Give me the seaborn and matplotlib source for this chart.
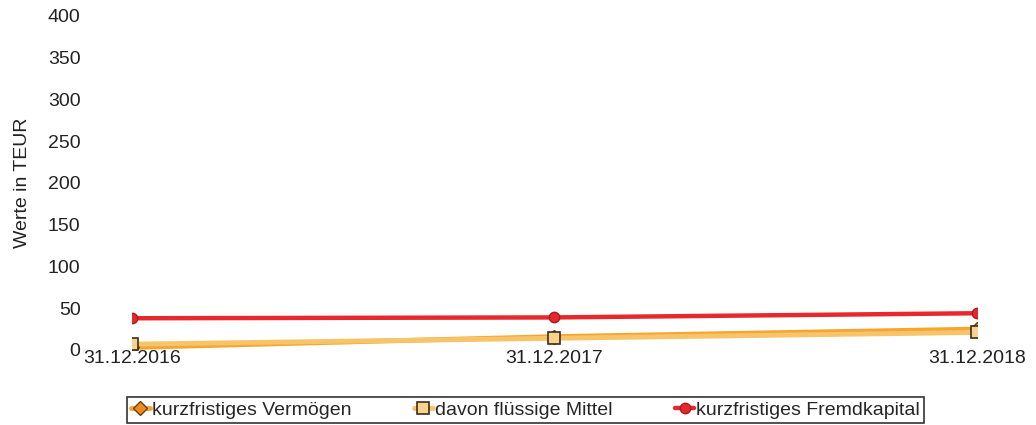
import matplotlib
matplotlib.use("Agg")
import matplotlib.pyplot as plt
import seaborn as sns
import pandas as pd

dates = ["31.12.2016", "31.12.2017", "31.12.2018"]
verm = [3, 16, 25]
fluessig = [7, 14, 21]
fremd = [38, 39, 44]

sns.set_style("white")
plt.rcParams['font.family'] = ['Liberation Sans', 'DejaVu Sans']

fig = plt.figure(figsize=(10.36, 4.25), dpi=100)
ax = fig.add_axes([0.1274, 0.1765, 0.8156, 0.786])

x = list(range(len(dates)))
sns.lineplot(x=x, y=verm, ax=ax, color="#f6a531", lw=3.5, marker="D", markersize=7,
             markerfacecolor="#f08a1c", markeredgecolor="#6a4010", markeredgewidth=1,
             label="kurzfristiges Vermögen")
sns.lineplot(x=x, y=fluessig, ax=ax, color="#f8c46a", lw=3.5, marker="s", markersize=8.5,
             markerfacecolor="#f9d38d", markeredgecolor="#3a2e1a", markeredgewidth=1.2,
             label="davon flüssige Mittel")
sns.lineplot(x=x, y=fremd, ax=ax, color="#e8282c", lw=3.2, marker="o", markersize=7.5,
             markerfacecolor="#e02a2e", markeredgecolor="#b01a1e", markeredgewidth=1,
             label="kurzfristiges Fremdkapital")

ax.set_xlim(0, 2)
ax.set_ylim(0, 400)
ax.set_yticks(range(0, 401, 50))
ax.set_xticks(x)
ax.set_xticklabels(dates)
ax.tick_params(axis="both", labelsize=14, length=0, colors="#222222")
ax.tick_params(axis="x", pad=0)
ax.tick_params(axis="y", pad=37)
ax.set_ylabel("Werte in TEUR", fontsize=14, color="#222222", labelpad=12)
for s in ax.spines.values():
    s.set_visible(False)

leg = ax.legend(loc="lower center", bbox_to_anchor=(0.507, 0.005), bbox_transform=fig.transFigure,
                ncol=3, frameon=True, fancybox=False, fontsize=14, handlelength=1.0,
                handletextpad=0.1, columnspacing=3.2, borderpad=0.2, borderaxespad=0)
leg.get_frame().set_edgecolor("black")
leg.get_frame().set_linewidth(1.2)

fig.savefig("out.png", dpi=100)
